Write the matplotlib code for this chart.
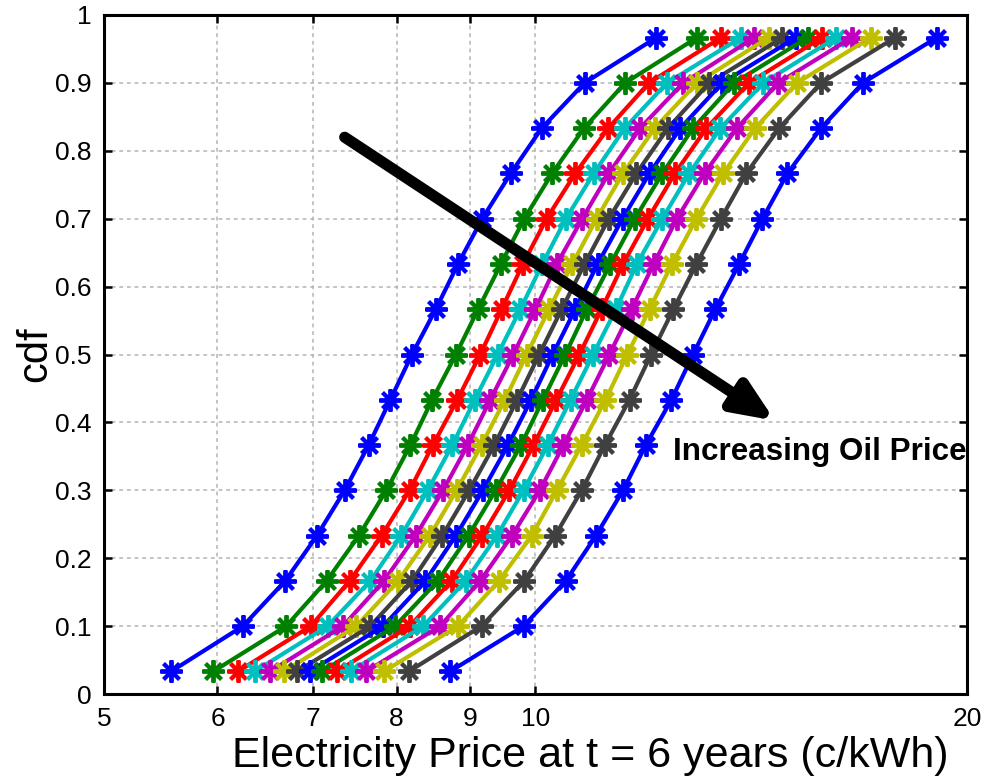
import matplotlib
matplotlib.use("Agg")
import matplotlib.pyplot as plt
from matplotlib.ticker import FixedLocator, NullLocator, FixedFormatter

# ------------------------------------------------------
# data: electricity price (c/kWh) at each cdf level, one list per oil price scenario
# ------------------------------------------------------
cdf_levels = [0.0333, 0.1, 0.1667, 0.2333, 0.3, 0.3667, 0.4333, 0.5,
              0.5667, 0.6333, 0.7, 0.7667, 0.8333, 0.9, 0.9667]

oil_1 = [5.57, 6.25, 6.69, 7.04, 7.36, 7.65, 7.92, 8.20, 8.52, 8.83, 9.18, 9.61, 10.10, 10.82, 12.14]
oil_2 = [5.96, 6.70, 7.15, 7.53, 7.87, 8.18, 8.47, 8.80, 9.12, 9.46, 9.82, 10.27, 10.81, 11.55, 12.96]
oil_3 = [6.20, 6.97, 7.42, 7.81, 8.17, 8.48, 8.82, 9.15, 9.47, 9.80, 10.18, 10.66, 11.24, 12.00, 13.47]
oil_4 = [6.37, 7.16, 7.67, 8.06, 8.41, 8.75, 9.07, 9.41, 9.76, 10.11, 10.50, 10.98, 11.54, 12.35, 13.91]
oil_5 = [6.53, 7.34, 7.84, 8.25, 8.62, 8.97, 9.30, 9.65, 10.00, 10.35, 10.78, 11.25, 11.83, 12.68, 14.21]
oil_6 = [6.68, 7.50, 8.02, 8.44, 8.81, 9.17, 9.52, 9.86, 10.22, 10.61, 11.03, 11.51, 12.11, 12.96, 14.54]
oil_7 = [6.82, 7.67, 8.20, 8.61, 8.99, 9.36, 9.71, 10.06, 10.43, 10.82, 11.25, 11.76, 12.37, 13.22, 14.87]
oil_8 = [6.96, 7.83, 8.38, 8.80, 9.19, 9.57, 9.93, 10.28, 10.66, 11.05, 11.50, 12.01, 12.62, 13.50, 15.19]
oil_9 = [7.10, 7.98, 8.55, 8.98, 9.38, 9.77, 10.12, 10.49, 10.86, 11.28, 11.73, 12.26, 12.88, 13.76, 15.48]
oil_10 = [7.27, 8.17, 8.74, 9.18, 9.59, 9.97, 10.34, 10.73, 11.12, 11.51, 11.98, 12.51, 13.16, 14.09, 15.84]
oil_11 = [7.43, 8.35, 8.94, 9.40, 9.81, 10.20, 10.58, 10.97, 11.38, 11.77, 12.26, 12.80, 13.46, 14.42, 16.21]
oil_12 = [7.62, 8.58, 9.15, 9.63, 10.07, 10.46, 10.86, 11.26, 11.67, 12.09, 12.55, 13.12, 13.82, 14.77, 16.62]
oil_13 = [7.84, 8.83, 9.43, 9.94, 10.35, 10.77, 11.19, 11.59, 12.01, 12.45, 12.95, 13.52, 14.23, 15.22, 17.13]
oil_14 = [8.16, 9.17, 9.82, 10.32, 10.77, 11.18, 11.63, 12.04, 12.48, 12.95, 13.47, 14.03, 14.79, 15.82, 17.82]
oil_15 = [8.72, 9.81, 10.50, 11.02, 11.51, 11.94, 12.44, 12.88, 13.35, 13.87, 14.40, 14.99, 15.82, 16.92, 19.05]

x_ticks = [5, 6, 7, 8, 9, 10, 20]
x_tick_labels = ["5", "6", "7", "8", "9", "10", "20"]
y_ticks = [0, 0.1, 0.2, 0.3, 0.4, 0.5, 0.6, 0.7, 0.8, 0.9, 1]
y_tick_labels = ["0", "0.1", "0.2", "0.3", "0.4", "0.5", "0.6", "0.7", "0.8", "0.9", "1"]

# matlab default line colors
matlab_colors = [(0, 0, 1), (0, 0.5, 0), (1, 0, 0), (0, 0.75, 0.75),
                 (0.75, 0, 0.75), (0.75, 0.75, 0), (0.25, 0.25, 0.25)]

curves = [oil_1, oil_2, oil_3, oil_4, oil_5, oil_6, oil_7, oil_8,
          oil_9, oil_10, oil_11, oil_12, oil_13, oil_14, oil_15]

# ------------------------------------------------------
# plot
# ------------------------------------------------------
plt.rcParams['font.family'] = ['Liberation Sans', 'DejaVu Sans']
fig = plt.figure(figsize=(9.86, 7.77), dpi=100)
ax = fig.add_axes([104 / 986, 83 / 777, 863 / 986, 679 / 777])

for i, prices in enumerate(curves):
    ax.plot(prices, cdf_levels, color=matlab_colors[i % 7], lw=3,
            marker=(8, 2, 0), markersize=16, markeredgewidth=2.8, zorder=3)

ax.set_xscale("log")
ax.set_xlim(5, 20)
ax.set_ylim(0, 1)
ax.xaxis.set_major_locator(FixedLocator(x_ticks))
ax.xaxis.set_major_formatter(FixedFormatter(x_tick_labels))
ax.xaxis.set_minor_locator(NullLocator())
ax.set_yticks(y_ticks)
ax.set_yticklabels(y_tick_labels)

ax.grid(True, linestyle=(0, (2.5, 2.5)), color="#b4b4b4", lw=1.1)
ax.tick_params(direction="in", length=6, width=1.8, labelsize=19,
               top=True, right=True, pad=9)
for s in ax.spines.values():
    s.set_linewidth(2.2)

# x label sits a bit right of the axes centre in the original
ax.set_xlabel("Electricity Price at t = 6 years (c/kWh)", fontsize=31)
ax.xaxis.label.set_verticalalignment("baseline")
ax.xaxis.set_label_coords(0.563, -0.107)
ax.set_ylabel("cdf", fontsize=30, labelpad=0)

# arrow and annotation
ax.annotate("", xy=(14.69, 0.4025), xytext=(7.36, 0.82),
            arrowprops=dict(arrowstyle="-|>,head_length=0.75,head_width=0.32",
                            lw=8, color="black", mutation_scale=32,
                            joinstyle="round", shrinkA=0, shrinkB=0), zorder=5)
ax.text(12.47, 0.356, "Increasing Oil Price", fontsize=22.6, fontweight="bold",
        ha="left", va="center", zorder=6)

fig.savefig("out.png", dpi=100)
